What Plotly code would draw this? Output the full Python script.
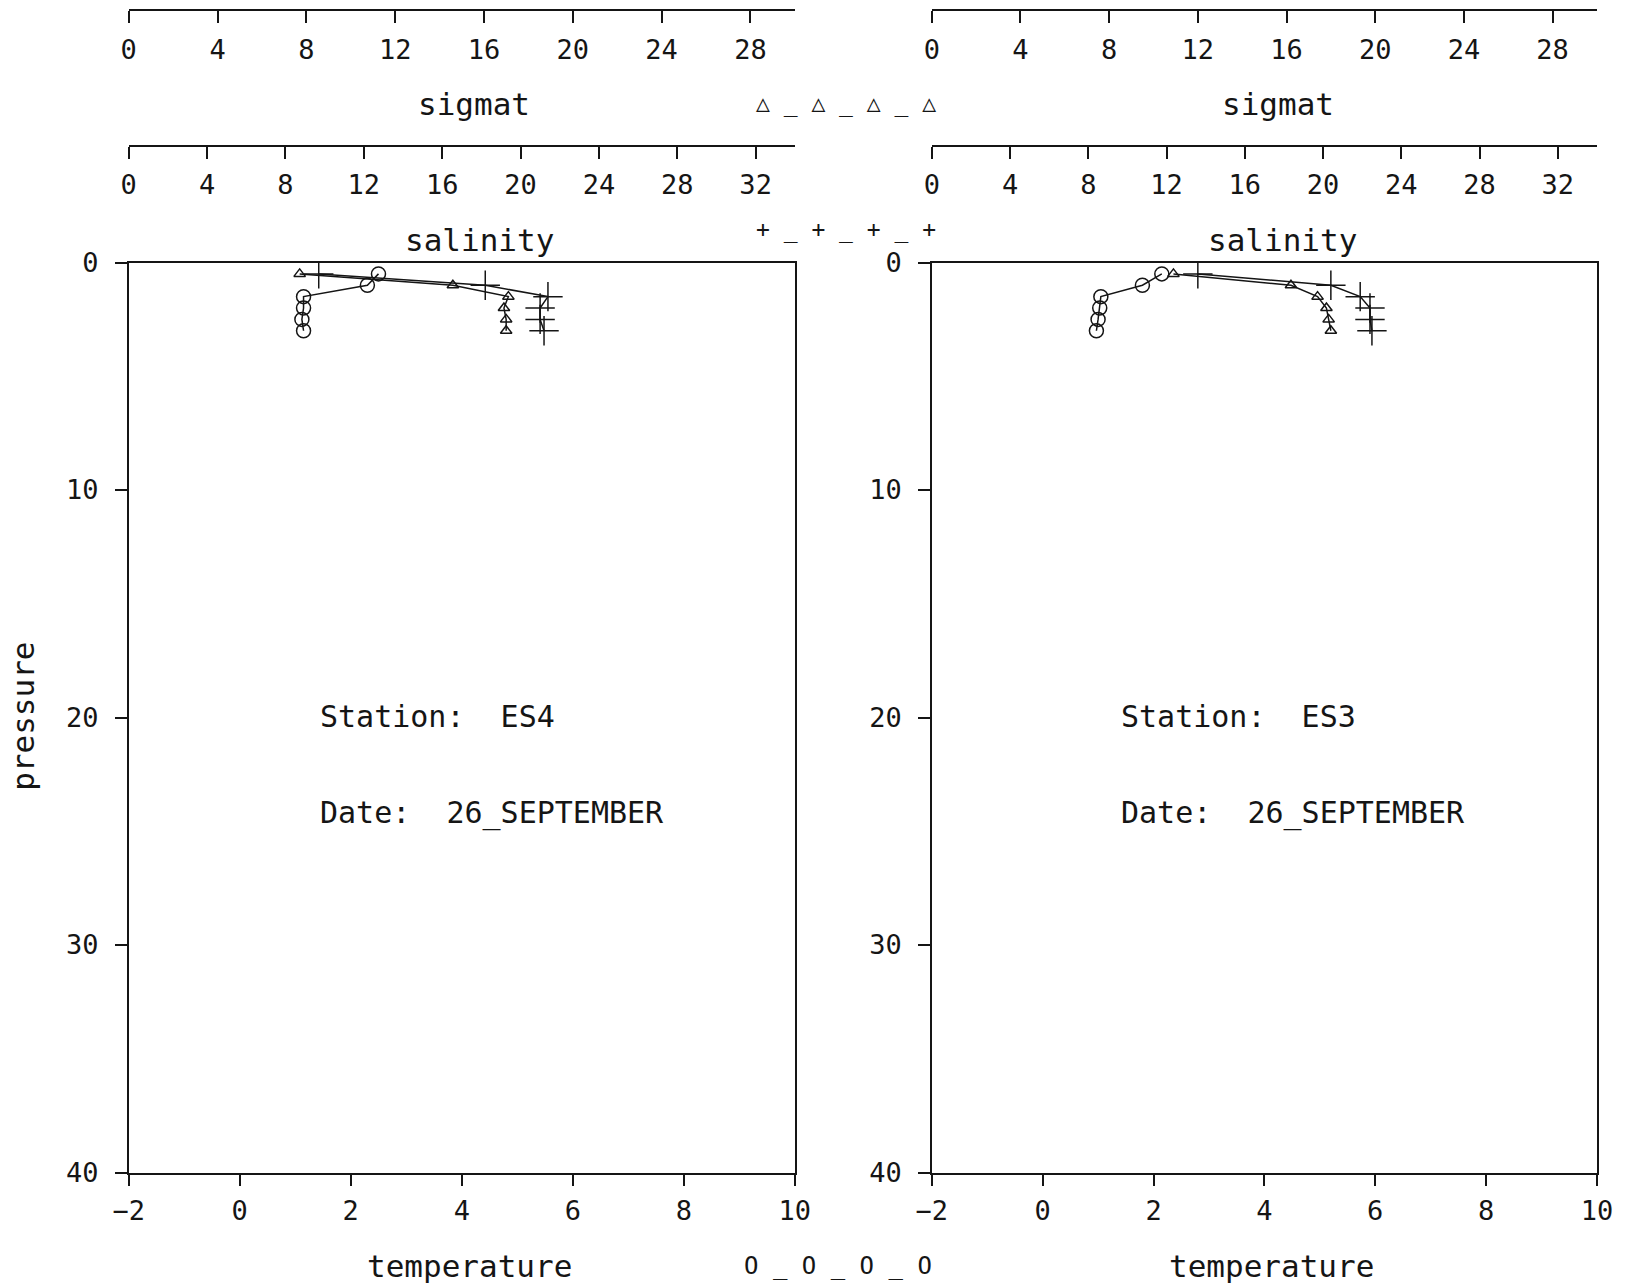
import plotly.graph_objects as go

W, H = 1627, 1286

# ---------------- data ----------------
pressure = [0.5, 1.0, 1.5, 2.0, 2.5, 3.0]

es4_temperature = [2.5, 2.3, 1.15, 1.15, 1.12, 1.15]
es4_sigmat = [7.7, 14.6, 17.1, 16.9, 17.0, 17.0]
es4_salinity = [9.7, 18.2, 21.4, 21.0, 21.0, 21.2]

es3_temperature = [2.15, 1.8, 1.05, 1.03, 1.0, 0.97]
es3_sigmat = [10.9, 16.2, 17.4, 17.8, 17.9, 18.0]
es3_salinity = [13.6, 20.4, 21.9, 22.4, 22.4, 22.5]

temp_ticks = [-2, 0, 2, 4, 6, 8, 10]
sigmat_ticks = [0, 4, 8, 12, 16, 20, 24, 28]
salinity_ticks = [0, 4, 8, 12, 16, 20, 24, 28, 32]
pressure_ticks = [0, 10, 20, 30, 40]

stations = ["ES4", "ES3"]
date_label = "26_SEPTEMBER"

# ---------------- layout helpers (pixel -> paper) ----------------
def px(x):
    return x / W

def py(y):
    return 1 - y / H

FONT = "DejaVu Sans Mono"
FS = 27
TFS = 31
BLACK = "#151515"

left_dom = [px(128.7), px(794.8)]
right_dom = [px(931.8), px(1596.9)]
y_dom = [py(1172.5), py(262.5)]

fig = go.Figure()

line_style = dict(color=BLACK, width=1.5)

def add_station(temp, sig, sal, xt, xs, xl, ya):
    fig.add_trace(go.Scatter(
        x=temp, y=pressure, xaxis=xt, yaxis=ya, mode="lines+markers",
        line=line_style,
        marker=dict(symbol="circle-open", size=14, color=BLACK, line=dict(width=1.5, color=BLACK)),
        showlegend=False, name="temperature"))
    fig.add_trace(go.Scatter(
        x=sig, y=pressure, xaxis=xs, yaxis=ya, mode="lines+markers",
        line=line_style,
        marker=dict(symbol="triangle-up-open", size=10, color=BLACK, line=dict(width=1.5, color=BLACK)),
        showlegend=False, name="sigmat"))
    fig.add_trace(go.Scatter(
        x=sal, y=pressure, xaxis=xl, yaxis=ya, mode="lines+markers",
        line=line_style,
        marker=dict(symbol="cross-thin-open", size=21, color=BLACK, line=dict(width=1.5, color=BLACK)),
        showlegend=False, name="salinity"))

add_station(es4_temperature, es4_sigmat, es4_salinity, "x", "x3", "x5", "y")
add_station(es3_temperature, es3_sigmat, es3_salinity, "x2", "x4", "x6", "y2")

tickfont = dict(family=FONT, size=FS, color=BLACK)

def temp_axis(dom, anchor):
    return dict(domain=dom, range=[-2, 10], tickvals=temp_ticks, ticks="outside",
                ticklen=12, tickwidth=1.5, tickcolor=BLACK, showline=True, linecolor=BLACK,
                linewidth=1.5, mirror=True, showgrid=False, zeroline=False, anchor=anchor,
                tickfont=tickfont, ticklabelstandoff=1, automargin=False)

def top_axis(dom, over, rng, vals, ypix):
    return dict(domain=dom, range=rng, tickvals=vals, ticks="outside", ticklen=12,
                tickwidth=1.5, tickcolor=BLACK, showline=True, linecolor=BLACK, linewidth=1.5,
                showgrid=False, zeroline=False, overlaying=over, anchor="free",
                position=py(ypix), side="bottom", tickfont=tickfont, ticklabelstandoff=3,
                automargin=False)

def p_axis(dom, anchor):
    return dict(domain=dom, range=[40, 0], tickvals=pressure_ticks, ticks="outside",
                ticklen=12, tickwidth=1.5, tickcolor=BLACK, showline=True, linecolor=BLACK,
                linewidth=1.5, mirror=True, showgrid=False, zeroline=False, anchor=anchor,
                tickfont=tickfont, ticklabelstandoff=11, automargin=False)

fig.update_layout(
    width=W, height=H,
    margin=dict(l=0, r=0, t=0, b=0, pad=0, autoexpand=False),
    paper_bgcolor="white", plot_bgcolor="white",
    showlegend=False,
    xaxis=temp_axis(left_dom, "y"),
    xaxis2=temp_axis(right_dom, "y2"),
    xaxis3=top_axis(left_dom, "x", [0, 30], sigmat_ticks, 10.4),
    xaxis4=top_axis(right_dom, "x2", [0, 30], sigmat_ticks, 10.4),
    xaxis5=top_axis(left_dom, "x", [0, 34], salinity_ticks, 146.3),
    xaxis6=top_axis(right_dom, "x2", [0, 34], salinity_ticks, 146.3),
    yaxis=p_axis(y_dom, "x"),
    yaxis2=p_axis(y_dom, "x2"),
)

annots = []

def ann(text, x, y, xanchor="center", angle=0, size=FS):
    annots.append(dict(text=text, x=px(x), y=py(y), xref="paper", yref="paper",
                       xanchor=xanchor, yanchor="middle", showarrow=False, textangle=angle,
                       font=dict(family=FONT, size=size, color=BLACK)))

# axis titles
ann("sigmat", 473.7, 103.8, size=TFS)
ann("sigmat", 1277.8, 103.8, size=TFS)
ann("salinity", 479.4, 239.7, size=TFS)
ann("salinity", 1282.5, 239.7, size=TFS)
ann("temperature", 469.5, 1265.9, size=TFS)
ann("temperature", 1271.0, 1265.9, size=TFS)
ann("pressure", 22.8, 716, angle=-90, size=TFS)

# station labels
ann("Station:  " + stations[0], 317.5, 716, xanchor="left", size=30)
ann("Date:  " + date_label, 317.5, 812.5, xanchor="left", size=30)
ann("Station:  " + stations[1], 1118.5, 716, xanchor="left", size=30)
ann("Date:  " + date_label, 1118.5, 812.5, xanchor="left", size=30)

# symbol keys
ann("△ _ △ _ △ _ △", 846, 103, size=23)
ann("+ _ + _ + _ +", 846, 229, size=23)
ann("O _ O _ O _ O", 838, 1266, size=24)

fig.update_layout(annotations=annots)

fig.write_html("out.html", config={"displayModeBar": False},
               post_script="document.body.style.margin='0';")
